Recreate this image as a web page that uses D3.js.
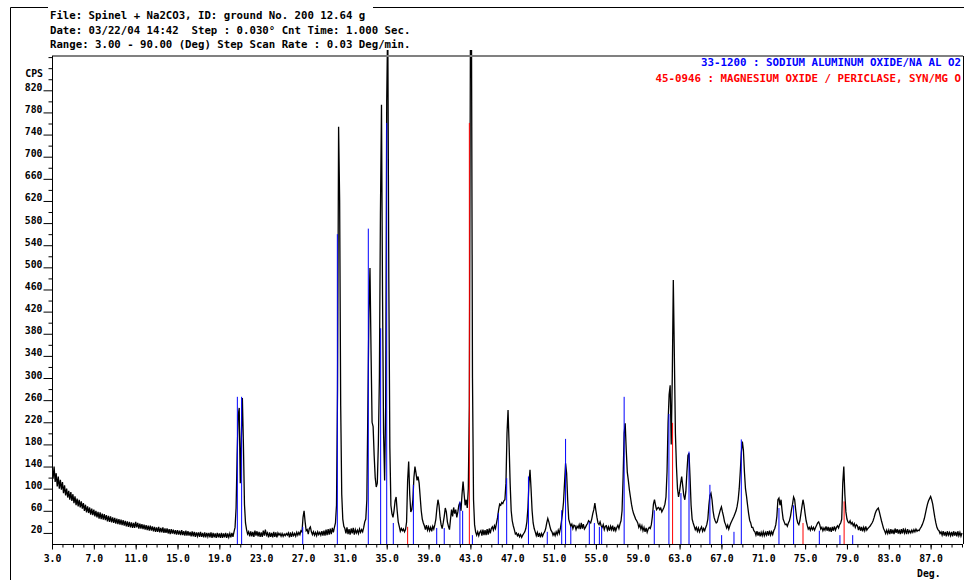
<!DOCTYPE html>
<html><head><meta charset="utf-8">
<script src="https://cdn.jsdelivr.net/npm/d3@7"></script>
<style>
body{margin:0;background:#fff;}
svg{display:block;background:#fff;}
text{font-family:"DejaVu Sans Mono","Liberation Mono",monospace;font-weight:bold;white-space:pre;}
</style></head><body>
<svg id="c" width="964" height="580"></svg>
<script>
const headerLines = [
  "File: Spinel + Na2CO3, ID: ground No. 200 12.64 g",
  "Date: 03/22/04 14:42  Step : 0.030\u00b0 Cnt Time: 1.000 Sec.",
  "Range: 3.00 - 90.00 (Deg) Step Scan Rate : 0.03 Deg/min."
];
const legendLabels = ["33-1200 : SODIUM ALUMINUM OXIDE/NA AL O2", "45-0946 : MAGNESIUM OXIDE / PERICLASE, SYN/MG O"];
const legendColors = ["#0000ff", "#ff0000"];

const scanStart = 3.0, scanStep = 0.1;
const cps = [
132,118,140,112,128,104,122,100,116,98,
112,92,106,88,100,84,96,80,94,78,
90,74,86,70,82,68,80,66,77,64,
74,60,71,57,68,56,66,53,64,52,
62,50,60,48,58,46,57,45,55,44,
54,43,52,41,51,40,50,39,48,38,
47,37,46,36,45,35,44,34,43,33,
42,32,41,31,40,30,39,29,38,29,
40,30,38,28,37,28,36,27,35,26,
34,25,33,24,33,24,32,23,31,22,
30,22,31,21,29,21,30,20,28,20,
28,19,27,18,27,19,26,18,25,17,
25,17,24,16,25,16,23,15,24,15,
23,15,22,14,23,14,22,13,21,14,
21,13,22,13,20,12,21,12,20,13,
20,12,21,11,20,12,19,11,20,12,
19,11,20,11,19,12,20,11,19,12,
19,12,20,13,22,30,65,160,232,246,
110,190,264,180,72,38,26,18,22,14,
23,14,22,13,24,15,23,14,22,13,
21,13,24,15,26,16,20,12,21,13,
20,12,22,13,21,12,20,16,19,14,
19,14,18,15,19,16,20,12,21,13,
20,15,19,14,21,16,21,17,24,22,
48,60,40,24,26,18,28,31,22,17,
22,16,21,15,22,17,21,16,23,15,
24,15,26,16,27,17,28,18,29,21,
30,38,70,280,754,620,250,90,45,32,
28,19,30,18,27,17,28,19,29,17,
26,20,25,19,27,21,26,22,30,40,
45,80,250,420,499,350,220,212,160,120,
103,110,180,300,600,794,450,200,115,250,
800,950,480,175,70,55,48,60,78,85,
60,40,32,23,28,24,27,22,26,40,
115,149,90,58,62,80,120,140,128,115,
122,110,85,60,45,38,33,26,34,25,
31,24,30,23,32,27,35,45,65,80,
70,48,35,28,38,50,65,58,40,32,
26,45,62,50,66,55,62,48,58,70,
75,60,90,113,90,70,80,65,100,250,
900,960,300,80,35,22,16,22,15,21,
24,15,26,16,25,16,27,17,28,19,
28,31,25,33,28,38,48,62,72,70,
75,73,78,80,110,200,242,180,110,60,
42,33,26,18,20,15,18,13,17,12,
16,19,22,28,40,65,110,134,100,60,
38,28,22,15,21,13,20,12,19,14,
19,22,28,38,46,40,32,25,22,16,
20,15,22,17,25,19,28,40,55,75,
110,146,128,80,45,38,32,36,28,34,
33,26,32,29,35,27,38,28,36,27,
30,34,37,42,40,38,45,55,62,74,
60,48,38,35,40,33,30,35,26,32,
33,25,31,24,32,26,33,23,31,24,
30,34,28,36,42,60,120,200,218,170,
130,115,98,85,72,62,55,50,45,42,
38,30,35,27,33,24,30,22,29,21,
27,30,28,35,50,72,80,70,62,65,
66,62,65,58,62,66,72,85,130,220,
270,287,180,300,477,340,200,140,100,85,
95,110,122,105,88,80,95,130,160,164,
120,70,45,38,32,26,30,23,29,22,
27,31,23,28,24,30,35,45,70,88,
92,80,60,48,42,38,40,48,55,62,
67,58,50,40,35,29,34,27,33,38,
42,46,50,55,60,68,80,100,130,165,
185,170,130,100,86,70,55,43,38,30,
30,24,22,16,23,15,22,14,21,15,
22,15,21,16,23,15,24,16,22,17,
24,28,35,50,80,83,70,80,60,45,
40,35,36,32,38,42,50,62,72,85,
80,62,46,38,35,42,55,68,80,70,
55,42,34,27,30,25,31,26,30,25,
30,34,38,40,35,27,30,24,29,25,
32,24,31,23,30,22,31,24,32,25,
30,33,29,35,38,45,110,140,90,58,
45,40,38,42,36,39,33,37,30,35,
33,25,32,24,31,23,30,24,32,25,
28,30,32,35,38,42,48,55,60,63,
65,58,50,42,35,28,24,19,25,19,
25,18,27,19,26,18,28,20,27,19,
26,18,27,19,28,20,26,18,27,20,
24,20,25,21,26,22,27,23,25,24,
28,31,35,40,46,55,64,72,78,82,
86,80,72,60,48,38,30,26,24,19,
22,16,23,15,22,14,23,16,21,15,
22,14,23,15,22,14,23,15,21,14,
20
];

const naAlO2Theta = [20.72,21.13,26.97,30.28,33.24,34.42,35.0,35.63,37.55,39.78,40.5,42.0,42.26,43.19,45.67,46.47,48.55,50.35,51.73,52.1,52.6,54.37,54.85,55.33,55.55,57.7,60.58,61.98,63.13,63.9,65.9,67.02,68.2,68.9,72.5,73.9,76.36,78.33,79.55];
const naAlO2Cps   = [266,266,31,560,570,390,761,38,107,29,29,77,60,16,56,119,122,22,61,190,31,40,38,31,31,266,61,235,92,167,107,16,22,189,65,70,24,16,16];
const mgoTheta = [37.0,42.9,62.33,74.8,78.73];
const mgoCps   = [31,761,219,38,77];

const xTickLabels = [3,7,11,15,19,23,27,31,35,39,43,47,51,55,59,63,67,71,75,79,83,87];
const yTickLabels = [20,60,100,140,180,220,260,300,340,380,420,460,500,540,580,620,660,700,740,780,820];

const svg = d3.select("#c");
const x = d3.scaleLinear().domain([3, 90]).range([52, 962]);
const y = d3.scaleLinear().domain([0, 882]).range([544, 56]);

// outer frame
svg.append("path").attr("d", "M48,7.5H10.5V580M373,7.5H964").attr("fill", "none").attr("stroke", "#000");

// header
headerLines.forEach((t, i) => {
  svg.append("text").attr("x", 50).attr("y", 19 + i * 14.5).attr("font-size", "10.7px").attr("fill", "#000").text(t);
});

// clip
svg.append("defs").append("clipPath").attr("id", "pc").append("rect").attr("x", 52).attr("y", 50).attr("width", 911).attr("height", 494);

// curve
const pts = cps.map((v, i) => [scanStart + i * scanStep, v]);
const line = d3.line().x(d => x(d[0])).y(d => y(d[1]));
svg.append("path").datum(pts).attr("clip-path", "url(#pc)").attr("d", line)
  .attr("fill", "none").attr("stroke", "#000").attr("stroke-width", 1.3).attr("stroke-linejoin", "miter");

// sticks
const g = svg.append("g").attr("clip-path", "url(#pc)");
naAlO2Theta.forEach((t, i) => {
  g.append("line").attr("x1", x(t)).attr("x2", x(t)).attr("y1", y(0)).attr("y2", y(naAlO2Cps[i]))
    .attr("stroke", "#0000ff").attr("stroke-width", 1);
});
mgoTheta.forEach((t, i) => {
  g.append("line").attr("x1", x(t)).attr("x2", x(t)).attr("y1", y(0)).attr("y2", y(mgoCps[i]))
    .attr("stroke", "#ff0000").attr("stroke-width", 1);
});

// plot frame
svg.append("line").attr("x1", 52).attr("x2", 963).attr("y1", 56).attr("y2", 56).attr("stroke", "#808080").attr("stroke-width", 2);
svg.append("line").attr("x1", 963.5).attr("x2", 963.5).attr("y1", 56).attr("y2", 544).attr("stroke", "#000");
svg.append("line").attr("x1", 52.5).attr("x2", 52.5).attr("y1", 56).attr("y2", 544).attr("stroke", "#000");
svg.append("line").attr("x1", 52).attr("x2", 963).attr("y1", 544.5).attr("y2", 544.5).attr("stroke", "#000");

// y axis
const yMinor = d3.range(40, 900, 40).concat([860]);
const yAxMinor = svg.append("g").attr("transform", "translate(52.5,0)")
  .call(d3.axisLeft(y).tickValues(yMinor).tickSize(4).tickFormat(""));
const yAxMajor = svg.append("g").attr("transform", "translate(52.5,0)")
  .call(d3.axisLeft(y).tickValues(yTickLabels).tickSize(9).tickPadding(1).tickFormat(d3.format("d")));
[yAxMinor, yAxMajor].forEach(a => { a.select(".domain").remove(); a.selectAll("line").attr("stroke", "#000"); });
yAxMajor.selectAll("text").attr("dy", "0").attr("font-size", "9.8px").attr("fill", "#000")
  .attr("font-family", "'DejaVu Sans Mono', monospace").attr("font-weight", "bold");
svg.append("text").attr("x", 43).attr("y", 77).attr("text-anchor", "end").attr("font-size", "9.8px").text("CPS");

// x axis
const xMinor = d3.range(3, 91, 1);
const xAxMinor = svg.append("g").attr("transform", "translate(0,544.5)")
  .call(d3.axisBottom(x).tickValues(xMinor).tickSize(3).tickFormat(""));
const xAxMajor = svg.append("g").attr("transform", "translate(0,544.5)")
  .call(d3.axisBottom(x).tickValues(xTickLabels).tickSize(5).tickPadding(6).tickFormat(d3.format(".1f")));
[xAxMinor, xAxMajor].forEach(a => { a.select(".domain").remove(); a.selectAll("line").attr("stroke", "#000"); });
xAxMajor.selectAll("text").attr("font-size", "9.8px").attr("fill", "#000")
  .attr("font-family", "'DejaVu Sans Mono', monospace").attr("font-weight", "bold");
svg.append("text").attr("x", 917).attr("y", 577).attr("font-size", "9.8px").text("Deg.");

// legend
legendLabels.forEach((t, i) => {
  svg.append("text").attr("x", 961).attr("y", 66 + i * 16).attr("text-anchor", "end")
    .attr("font-size", "10.8px").attr("fill", legendColors[i]).text(t);
});
</script>
</body></html>
